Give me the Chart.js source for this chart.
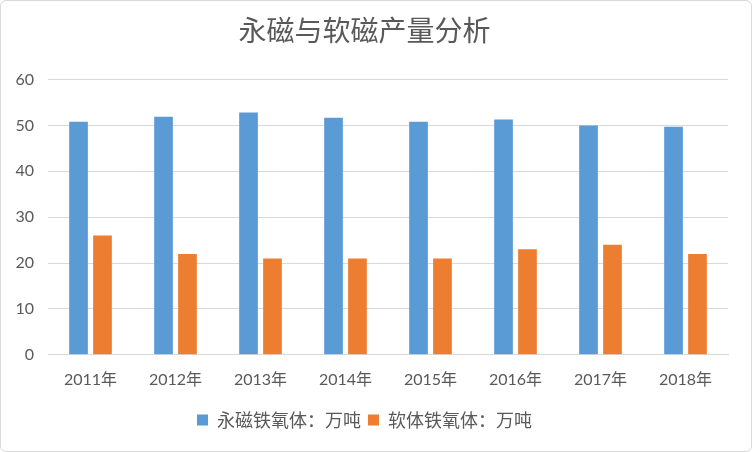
<!DOCTYPE html>
<html>
<head>
<meta charset="utf-8">
<script src="https://cdn.jsdelivr.net/npm/chart.js@4/dist/chart.umd.min.js"></script>
<style>
  html, body { margin: 0; padding: 0; background: #fff; }
  #wrap {
    width: 750px; height: 450px;
    border: 1px solid #d9d9d9; border-radius: 6px;
    overflow: hidden; background: #fff;
  }
</style>
</head>
<body>
<div id="wrap"><canvas id="chart" width="750" height="450"></canvas></div>
<script>
// Data
const years = ['2011年', '2012年', '2013年', '2014年', '2015年', '2016年', '2017年', '2018年'];
const hardFerrite = [50.8, 51.9, 52.8, 51.7, 50.8, 51.3, 50.0, 49.7];
const softFerrite = [26, 22, 21, 21, 21, 23, 24, 22];
const yTicks = [0, 10, 20, 30, 40, 50, 60];

const TEXT = '#595959';
const FONT = "Lato, 'Noto Sans CJK SC', sans-serif";
const CJK = "'Noto Sans CJK SC', sans-serif";

const ctx = document.getElementById('chart').getContext('2d');
new Chart(ctx, {
    type: 'bar',
    data: {
        labels: years,
        datasets: [
            {
                label: '永磁铁氧体：万吨',
                data: hardFerrite,
                backgroundColor: '#5B9BD5',
                categoryPercentage: 0.564,
                barPercentage: 0.78
            },
            {
                label: '软体铁氧体：万吨',
                data: softFerrite,
                backgroundColor: '#ED7D31',
                categoryPercentage: 0.564,
                barPercentage: 0.78
            }
        ]
    },
    options: {
        responsive: false,
        animation: false,
        layout: { padding: { left: 0, right: 23, top: 0, bottom: 12 } },
        scales: {
            x: {
                grid: { display: false, drawTicks: false },
                border: { color: '#d9d9d9' },
                ticks: { color: TEXT, font: { family: FONT, size: 16 }, padding: 15 }
            },
            y: {
                min: 0,
                max: 60,
                afterBuildTicks: (axis) => { axis.ticks = yTicks.map(v => ({ value: v })); },
                afterFit: (axis) => { axis.width = 47; },
                grid: { color: '#d9d9d9', lineWidth: 1, drawTicks: false },
                border: { display: false },
                ticks: { color: TEXT, font: { family: FONT, size: 16 }, padding: 14 }
            }
        },
        plugins: {
            title: {
                display: true,
                text: '永磁与软磁产量分析',
                color: TEXT,
                font: { family: CJK, size: 28, weight: 'normal' },
                padding: { top: 13, bottom: 32 }
            },
            legend: {
                position: 'bottom',
                labels: {
                    color: TEXT,
                    font: { family: CJK, size: 18 },
                    boxWidth: 11,
                    boxHeight: 11,
                    padding: 7
                }
            },
            tooltip: { enabled: false }
        }
    }
});
</script>
</body>
</html>
